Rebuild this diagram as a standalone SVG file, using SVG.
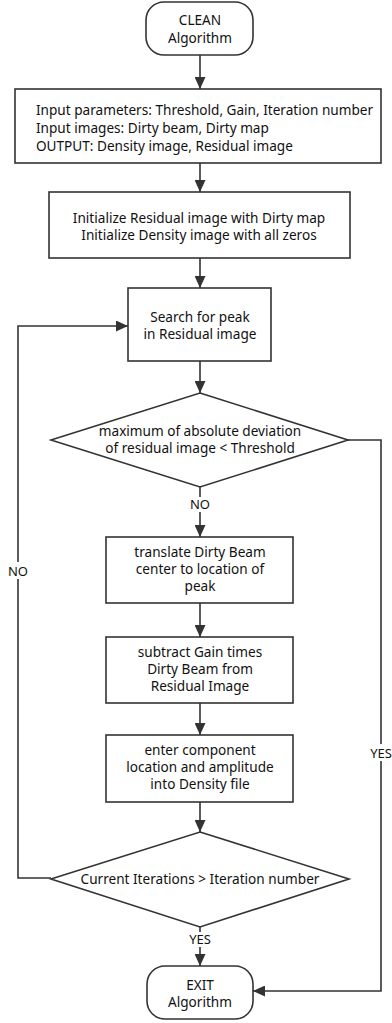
<svg xmlns="http://www.w3.org/2000/svg" width="392" height="1023" viewBox="0 0 392 1023">
<defs>
<marker id="arr" viewBox="0 0 12 11" refX="12" refY="5.5" markerWidth="12" markerHeight="11" markerUnits="userSpaceOnUse" orient="auto">
<path d="M0,0 L12,5.5 L0,11 Z" fill="#333"/>
</marker>
<style>
.shape{fill:#fff;stroke:#333;stroke-width:1.6}
.edge{fill:none;stroke:#333;stroke-width:1.6;marker-end:url(#arr)}
.line{fill:none;stroke:#333;stroke-width:1.6}
text{font-family:"Noto Sans","Open Sans",sans-serif;font-size:13.6px;fill:#111}
.c{text-anchor:middle}
.lbl{font-family:"Noto Sans",sans-serif;font-size:13px;fill:#111;text-anchor:middle}
</style>
</defs>
<rect width="392" height="1023" fill="#fff"/>
<g id="connectors">
<line class="edge" x1="200" y1="55" x2="200" y2="89"/>
<line class="edge" x1="200" y1="163" x2="200" y2="192"/>
<line class="edge" x1="200" y1="258" x2="200" y2="288"/>
<line class="edge" x1="200" y1="361" x2="200" y2="393"/>
<line class="line" x1="200" y1="487" x2="200" y2="497"/>
<line class="edge" x1="200" y1="512" x2="200" y2="537"/>
<line class="edge" x1="200" y1="603" x2="200" y2="637"/>
<line class="edge" x1="200" y1="703" x2="200" y2="735"/>
<line class="edge" x1="200" y1="802" x2="200" y2="832"/>
<line class="line" x1="200" y1="927" x2="200" y2="932"/>
<line class="edge" x1="200" y1="947" x2="200" y2="966"/>
<polyline class="edge" points="348,440 381,440 381,991 253,991"/>
<polyline class="edge" points="51,878 18,878 18,326 128,326"/>
<rect x="5" y="562" width="26" height="17" fill="#fff"/>
<text class="lbl" x="18" y="576">NO</text>
<rect x="367" y="744" width="26" height="17" fill="#fff"/>
<text class="lbl" x="381" y="758">YES</text>
<text class="lbl" x="200" y="509">NO</text>
<text class="lbl" x="200" y="944">YES</text>
</g>
<g id="start">
<rect class="shape" x="146" y="2" width="107" height="53" rx="18" ry="18"/>
<text class="c" x="200" y="25">CLEAN</text>
<text class="c" x="200" y="43">Algorithm</text>
</g>
<g id="inputs">
<rect class="shape" x="15" y="89" width="366" height="74"/>
<text x="36" y="115">Input parameters: Threshold, Gain, Iteration number</text>
<text x="36" y="133">Input images: Dirty beam, Dirty map</text>
<text x="36" y="151">OUTPUT: Density image, Residual image</text>
</g>
<g id="init">
<rect class="shape" x="49" y="192" width="301" height="66"/>
<text class="c" x="199" y="223">Initialize Residual image with Dirty map</text>
<text class="c" x="199" y="240">Initialize Density image with all zeros</text>
</g>
<g id="search">
<rect class="shape" x="128" y="288" width="143" height="73"/>
<text class="c" x="200" y="322">Search for peak</text>
<text class="c" x="200" y="339">in Residual image</text>
</g>
<g id="check-threshold">
<polygon class="shape" points="200,393 348,440 200,487 51,440"/>
<text class="c" x="200" y="436">maximum of absolute deviation</text>
<text class="c" x="200" y="453">of residual image &lt; Threshold</text>
</g>
<g id="translate">
<rect class="shape" x="106" y="537" width="187" height="66"/>
<text class="c" x="200" y="557">translate Dirty Beam</text>
<text class="c" x="200" y="574">center to location of</text>
<text class="c" x="200" y="591">peak</text>
</g>
<g id="subtract">
<rect class="shape" x="106" y="637" width="187" height="66"/>
<text class="c" x="200" y="657">subtract Gain times</text>
<text class="c" x="200" y="674">Dirty Beam from</text>
<text class="c" x="200" y="691">Residual Image</text>
</g>
<g id="enter">
<rect class="shape" x="106" y="735" width="187" height="67"/>
<text class="c" x="200" y="755">enter component</text>
<text class="c" x="200" y="772">location and amplitude</text>
<text class="c" x="200" y="789">into Density file</text>
</g>
<g id="check-iterations">
<polygon class="shape" points="200,832 349,879 200,927 51,879"/>
<text class="c" x="200" y="884">Current Iterations &gt; Iteration number</text>
</g>
<g id="exit">
<rect class="shape" x="147" y="966" width="106" height="53" rx="18" ry="18"/>
<text class="c" x="200" y="990">EXIT</text>
<text class="c" x="200" y="1007">Algorithm</text>
</g>
</svg>
